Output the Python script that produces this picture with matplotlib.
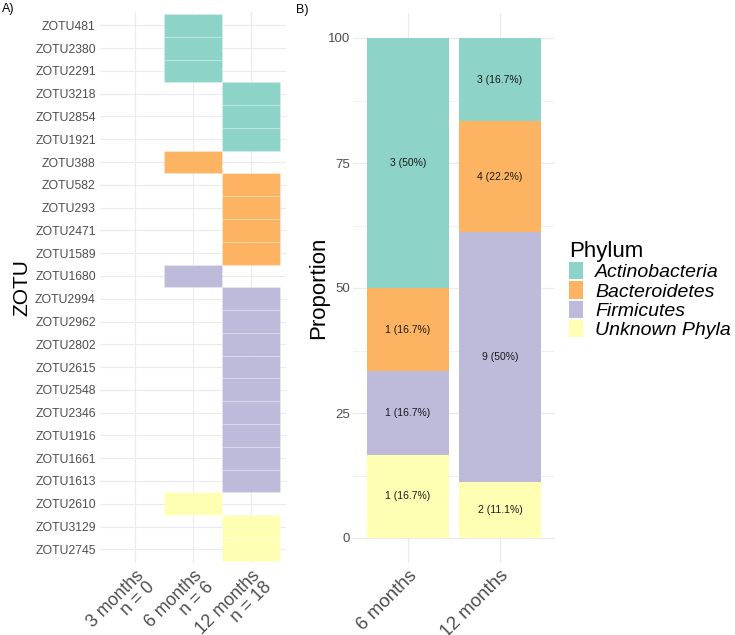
import matplotlib
matplotlib.use("Agg")
import matplotlib.pyplot as plt
import matplotlib.transforms as mtransforms
from matplotlib.patches import Patch

plt.rcParams['font.family'] = ['Liberation Sans', 'DejaVu Sans']

# ---------------- data ----------------
phyla = ["Actinobacteria", "Bacteroidetes", "Firmicutes", "Unknown Phyla"]
phylum_colors = ["#8DD3C7", "#FDB462", "#BEBADA", "#FFFFB3"]

time_labels_A = ["3 months\nn = 0", "6 months\nn = 6", "12 months\nn = 18"]
zotus = ["ZOTU481", "ZOTU2380", "ZOTU2291", "ZOTU3218", "ZOTU2854", "ZOTU1921",
         "ZOTU388", "ZOTU582", "ZOTU293", "ZOTU2471", "ZOTU1589", "ZOTU1680",
         "ZOTU2994", "ZOTU2962", "ZOTU2802", "ZOTU2615", "ZOTU2548", "ZOTU2346",
         "ZOTU1916", "ZOTU1661", "ZOTU1613", "ZOTU2610", "ZOTU3129", "ZOTU2745"]
# index into time_labels_A (0 = 3 months, 1 = 6 months, 2 = 12 months)
zotu_time = [1, 1, 1, 2, 2, 2,
             1, 2, 2, 2, 2, 1,
             2, 2, 2, 2, 2, 2,
             2, 2, 2, 1, 2, 2]
zotu_phylum = (["Actinobacteria"] * 6 + ["Bacteroidetes"] * 5 +
               ["Firmicutes"] * 10 + ["Unknown Phyla"] * 3)

time_labels_B = ["6 months", "12 months"]
counts_6m = [3, 1, 1, 1]
counts_12m = [3, 4, 9, 2]

# ---------------- figure ----------------
W, H = 735, 635
fig = plt.figure(figsize=(W / 100, H / 100), dpi=100)

def fig_rect(x0, y0, x1, y1):
    return [x0 / W, 1 - y1 / H, (x1 - x0) / W, (y1 - y0) / H]

grid_col = "#EBEBEB"
tick_col = "#4D4D4D"

# ---------------- panel A ----------------
axA = fig.add_axes(fig_rect(100, 11.7, 286, 563))
n = len(zotus)
for i in range(n):
    axA.axhline(i, color=grid_col, lw=0.8, zorder=0)
for j in range(len(time_labels_A)):
    axA.axvline(j, color=grid_col, lw=0.8, zorder=0)
for i, (z, t, p) in enumerate(zip(zotus, zotu_time, zotu_phylum)):
    c = phylum_colors[phyla.index(p)]
    axA.bar(t, 1, bottom=i - 0.5, width=1, color=c,
            edgecolor=(1, 1, 1, 0.25), linewidth=0.6, zorder=2)
axA.set_xlim(-0.6, 2.6)
axA.set_ylim(n - 1 + 0.6, -0.6)
axA.set_yticks(range(n))
axA.set_yticklabels(zotus, fontsize=8.8, color=tick_col)
axA.set_xticks(range(len(time_labels_A)))
axA.set_xticklabels(time_labels_A, fontsize=12.8, color=tick_col, rotation=45,
                    ha="right", va="top", rotation_mode="anchor",
                    multialignment="right", linespacing=0.95)
offA = mtransforms.ScaledTranslation(12 / 100, 4 / 100, fig.dpi_scale_trans)
for lab in axA.get_xticklabels():
    lab.set_transform(lab.get_transform() + offA)
axA.tick_params(length=0, pad=3)
for s in axA.spines.values():
    s.set_visible(False)
axA.set_ylabel("ZOTU", fontsize=15)
axA.yaxis.set_label_coords((31 - 100) / 186, 0.5)

# ---------------- panel B ----------------
axB = fig.add_axes(fig_rect(353, 13, 555, 563))
for v in [12.5, 37.5, 62.5, 87.5]:
    axB.axhline(v, color=grid_col, lw=0.5, zorder=0)
for v in [0, 25, 50, 75, 100]:
    axB.axhline(v, color=grid_col, lw=0.9, zorder=0)
for v in [1, 2]:
    axB.axvline(v, color=grid_col, lw=0.9, zorder=0)

stack_order = ["Unknown Phyla", "Firmicutes", "Bacteroidetes", "Actinobacteria"]
for xi, counts in zip([1, 2], [counts_6m, counts_12m]):
    total = sum(counts)
    bottom = 0.0
    for p in stack_order:
        k = counts[phyla.index(p)]
        pct = k / total * 100
        axB.bar(xi, pct, bottom=bottom, width=0.9,
                color=phylum_colors[phyla.index(p)], zorder=2)
        label = f"{k} ({round(pct, 1):g}%)"
        axB.text(xi, bottom + pct / 2, label, ha="center", va="center",
                 fontsize=7.5, color="#1A1A1A", zorder=3)
        bottom += pct

axB.set_xlim(0.4, 2.6)
axB.set_ylim(-5, 105)
axB.set_yticks([0, 25, 50, 75, 100])
axB.set_yticklabels(["0", "25", "50", "75", "100"], fontsize=9.5, color=tick_col)
axB.set_xticks([1, 2])
axB.set_xticklabels(time_labels_B, fontsize=13.5, color=tick_col, rotation=45,
                    ha="right", va="top", rotation_mode="anchor")
offB = mtransforms.ScaledTranslation(9 / 100, 0, fig.dpi_scale_trans)
for lab in axB.get_xticklabels():
    lab.set_transform(lab.get_transform() + offB)
axB.tick_params(length=0, pad=3)
axB.tick_params(axis="y", pad=2)
for s in axB.spines.values():
    s.set_visible(False)
axB.set_ylabel("Proportion", fontsize=16)
axB.yaxis.set_label_coords((329 - 353) / 202, 0.5)

# ---------------- legend ----------------
handles = [Patch(facecolor=c, edgecolor="none") for c in phylum_colors]
leg = fig.legend(handles, phyla, loc="upper left",
                 bbox_to_anchor=(569 / W, 1 - 241 / H),
                 frameon=False, title="Phylum", alignment="left",
                 prop={"style": "italic", "size": 14},
                 title_fontproperties={"size": 16},
                 handlelength=0.7, handleheight=1.0, labelspacing=0,
                 handletextpad=0.65, borderpad=0, borderaxespad=0)

# ---------------- panel tags ----------------
fig.text(2 / W, 1 - 9 / H, "A)", fontsize=9, va="center", ha="left")
fig.text(296 / W, 1 - 10 / H, "B)", fontsize=9, va="center", ha="left")

fig.savefig("out.png", dpi=100, facecolor="white")
